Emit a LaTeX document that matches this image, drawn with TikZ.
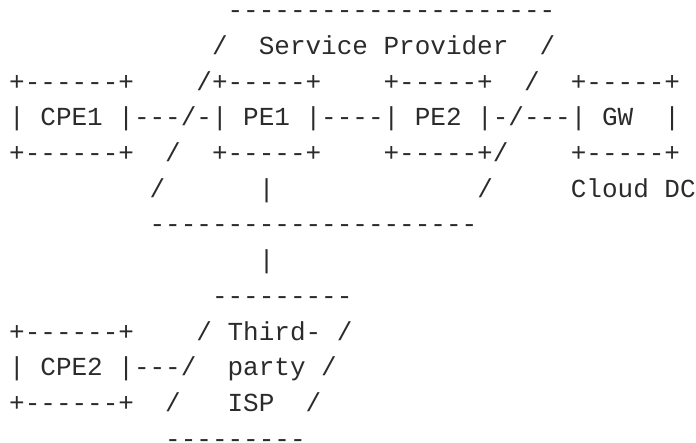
\documentclass[tikz,border=0pt]{standalone}
\usepackage{fontspec}
\setmonofont{Liberation Mono}
\definecolor{ink}{HTML}{2B2B2B}
\tikzset{
  asc/.style={anchor=base west, inner sep=0pt, outer sep=0pt, text=ink,
    font=\ttfamily\fontsize{26pt}{26pt}\selectfont}
}
\begin{document}
\begin{tikzpicture}[x=1pt,y=1pt]
\useasboundingbox (0,0) rectangle (696,442);
\node[asc] (l1)  at (9.2,423)    {~~~~~~~~~~~~~~---------------------};
\node[asc] (l2)  at (9.2,387.33) {~~~~~~~~~~~~~/~~Service~Provider~~/};
\node[asc] (l3)  at (9.2,351.67) {+------+~~~~/+-----+~~~~+-----+~~/~~+-----+};
\node[asc] (l4)  at (9.2,316)    {|~CPE1~|---/-|~PE1~|----|~PE2~|-/---|~GW~~|};
\node[asc] (l5)  at (9.2,280.33) {+------+~~/~~+-----+~~~~+-----+/~~~~+-----+};
\node[asc] (l6)  at (9.2,244.67) {~~~~~~~~~/~~~~~~|~~~~~~~~~~~~~/~~~~~Cloud~DC};
\node[asc] (l7)  at (9.2,209)    {~~~~~~~~~---------------------};
\node[asc] (l8)  at (9.2,173.33) {~~~~~~~~~~~~~~~~|};
\node[asc] (l9)  at (9.2,137.67) {~~~~~~~~~~~~~---------};
\node[asc] (l10) at (9.2,102)    {+------+~~~~/~Third-~/};
\node[asc] (l11) at (9.2,66.33)  {|~CPE2~|---/~~party~/};
\node[asc] (l12) at (9.2,30.67)  {+------+~~/~~~ISP~~/};
\node[asc] (l13) at (9.2,-5)     {~~~~~~~~~~---------};
\end{tikzpicture}
\end{document}
